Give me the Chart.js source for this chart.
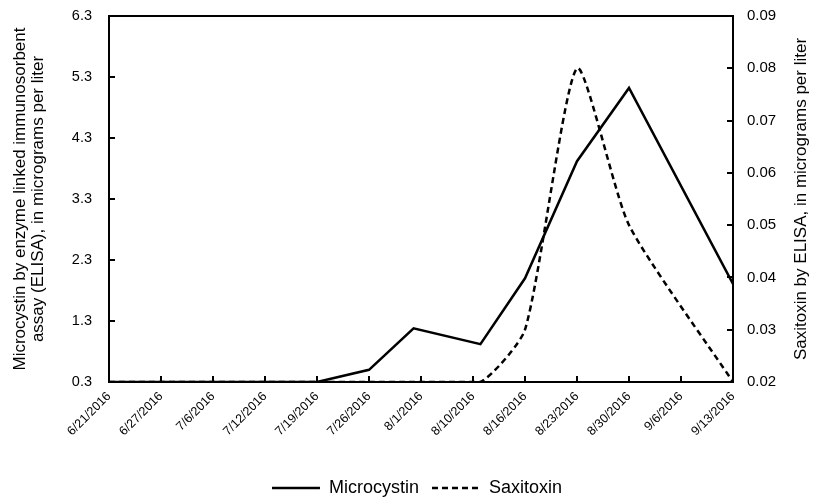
<!DOCTYPE html>
<html>
<head>
<meta charset="utf-8">
<script src="https://cdn.jsdelivr.net/npm/chart.js@4/dist/chart.umd.min.js"></script>
<style>
html,body{margin:0;padding:0;background:#fff;}
#wrap{width:814px;height:498px;position:relative;}
</style>
</head>
<body>
<div id="wrap"><canvas id="c" width="814" height="498"></canvas></div>
<script>
// ---- data ----
const tickLabels = ['6/21/2016','6/27/2016','7/6/2016','7/12/2016','7/19/2016','7/26/2016','8/1/2016','8/10/2016','8/16/2016','8/23/2016','8/30/2016','9/6/2016','9/13/2016'];
const sampleDates = ['2016-06-21','2016-06-27','2016-07-06','2016-07-12','2016-07-19','2016-07-26','2016-08-01','2016-08-10','2016-08-16','2016-08-23','2016-08-30','2016-09-13'];
const microcystin = [0.3, 0.3, 0.3, 0.3, 0.3, 0.5, 1.18, 0.92, 2.0, 3.92, 5.12, 1.91];
const saxitoxin   = [0.02, 0.02, 0.02, 0.02, 0.02, 0.02, 0.02, 0.02, 0.03, 0.08, 0.05, 0.02];
const leftTicks  = [0.3, 1.3, 2.3, 3.3, 4.3, 5.3, 6.3];
const rightTicks = [0.02, 0.03, 0.04, 0.05, 0.06, 0.07, 0.08, 0.09];
const leftTitle  = ['Microcystin by enzyme linked immunosorbent', 'assay (ELISA), in micrograms per liter'];
const rightTitle = 'Saxitoxin by ELISA, in micrograms per liter';

const DAY = 86400000;
const t0 = Date.parse(sampleDates[0]);
const dayOf = d => Math.round((Date.parse(d) - t0) / DAY);
const tickStep = 7;

const FONT = '"Liberation Sans", Arial, sans-serif';

const framePlugin = {
  id: 'frame',
  afterDraw(chart) {
    const {ctx, chartArea: a, scales} = chart;
    ctx.save();
    ctx.strokeStyle = '#000';
    ctx.lineWidth = 2;
    ctx.strokeRect(a.left, a.top, a.right - a.left, a.bottom - a.top);
    ctx.beginPath();
    scales.x.ticks.forEach(t => {
      const x = Math.round(scales.x.getPixelForValue(t.value));
      ctx.moveTo(x, a.bottom); ctx.lineTo(x, a.bottom - 6);
    });
    scales.y.ticks.forEach(t => {
      const y = Math.round(scales.y.getPixelForValue(t.value));
      ctx.moveTo(a.left, y); ctx.lineTo(a.left + 6, y);
    });
    scales.y2.ticks.forEach(t => {
      const y = Math.round(scales.y2.getPixelForValue(t.value));
      ctx.moveTo(a.right, y); ctx.lineTo(a.right - 6, y);
    });
    ctx.stroke();
    // axis titles
    const cy = (a.top + a.bottom) / 2;
    ctx.fillStyle = '#000';
    ctx.font = '17px ' + FONT;
    ctx.textAlign = 'center';
    ctx.textBaseline = 'middle';
    [[20, leftTitle[0]], [38, leftTitle[1]], [801, rightTitle]].forEach(([x, txt]) => {
      ctx.save();
      ctx.translate(x, cy);
      ctx.rotate(-Math.PI / 2);
      ctx.fillText(txt, 0, 0);
      ctx.restore();
    });
    ctx.restore();
  }
};

new Chart(document.getElementById('c'), {
  type: 'line',
  data: {
    datasets: [
      {
        label: 'Microcystin',
        data: sampleDates.map((d, i) => ({x: dayOf(d), y: microcystin[i]})),
        yAxisID: 'y',
        borderColor: '#000',
        backgroundColor: '#000',
        borderWidth: 2.5,
        pointRadius: 0,
        tension: 0,
        fill: false
      },
      {
        label: 'Saxitoxin',
        data: sampleDates.map((d, i) => ({x: dayOf(d), y: saxitoxin[i]})),
        yAxisID: 'y2',
        borderColor: '#000',
        backgroundColor: '#000',
        borderWidth: 2.5,
        borderDash: [6, 4],
        pointRadius: 0,
        tension: 0.2,
        fill: false
      }
    ]
  },
  options: {
    responsive: false,
    animation: false,
    devicePixelRatio: 1,
    layout: {padding: {top: 16, bottom: -9, left: 20, right: 0}},
    plugins: {
      tooltip: {enabled: false},
      legend: {
        position: 'bottom',
        labels: {
          boxWidth: 48,
          boxHeight: 0,
          padding: 13,
          color: '#000',
          font: {family: FONT, size: 18}
        }
      }
    },
    scales: {
      x: {
        type: 'linear',
        min: 0,
        max: (tickLabels.length - 1) * tickStep,
        grid: {display: false, drawTicks: true, tickLength: 4},
        border: {display: false},
        afterFit(s) { s.height = 84; },
        ticks: {
          stepSize: tickStep,
          autoSkip: false,
          maxRotation: 45,
          minRotation: 45,
          padding: 3,
          color: '#000',
          font: {family: FONT, size: 12.5},
          callback: v => tickLabels[Math.round(v / tickStep)]
        }
      },
      y: {
        type: 'linear',
        position: 'left',
        min: leftTicks[0],
        max: leftTicks[leftTicks.length - 1],
        grid: {display: false, drawTicks: true, tickLength: 14},
        border: {display: false},
        afterFit(s) { s.width = 89; },
        afterBuildTicks(s) { s.ticks = leftTicks.map(v => ({value: v})); },
        ticks: {
          padding: 3,
          color: '#000',
          font: {family: FONT, size: 14.5},
          callback: v => v.toFixed(1)
        }
      },
      y2: {
        type: 'linear',
        position: 'right',
        min: rightTicks[0],
        max: rightTicks[rightTicks.length - 1],
        grid: {display: false, drawTicks: true, tickLength: 11},
        border: {display: false},
        afterFit(s) { s.width = 81; },
        afterBuildTicks(s) { s.ticks = rightTicks.map(v => ({value: v})); },
        ticks: {
          padding: 3,
          color: '#000',
          font: {family: FONT, size: 15},
          callback: v => v.toFixed(2)
        }
      }
    }
  },
  plugins: [framePlugin]
});
</script>
</body>
</html>
